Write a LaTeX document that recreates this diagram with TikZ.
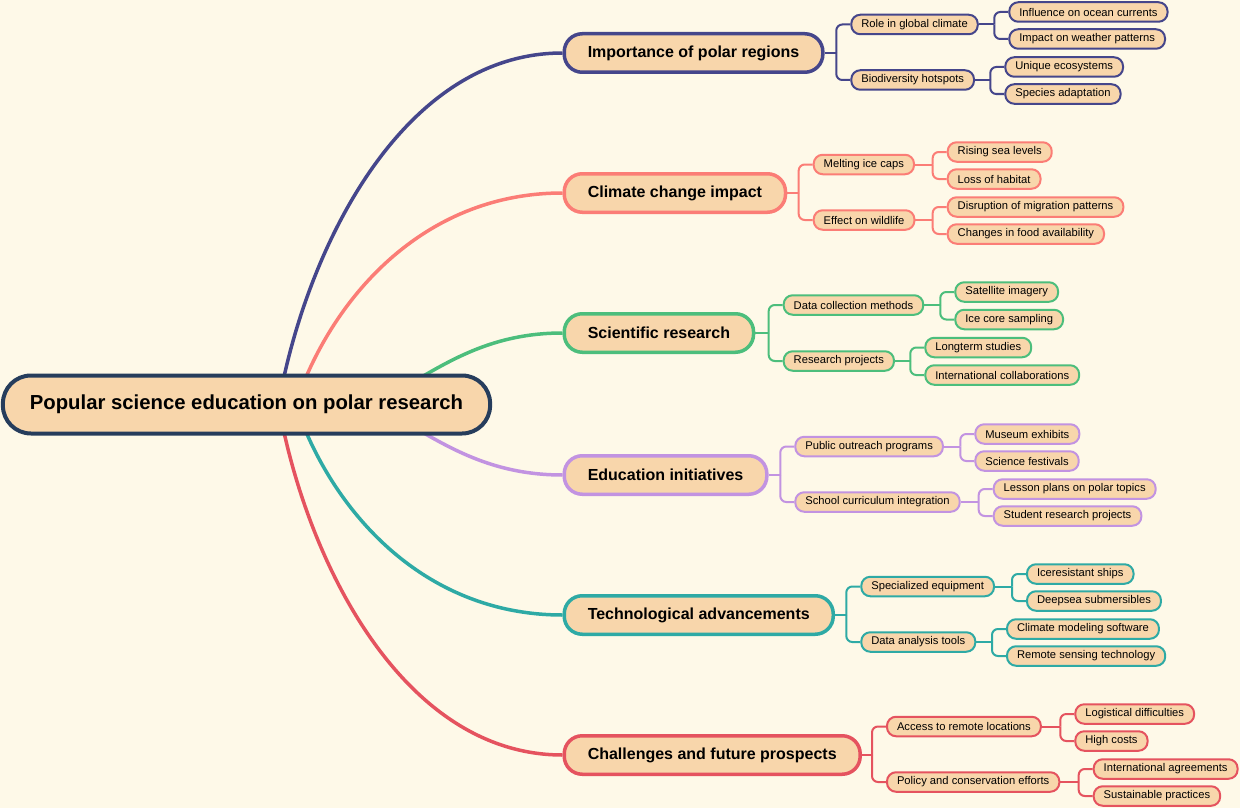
\documentclass[tikz,border=0pt]{standalone}
\usepackage{fontspec}
\setmainfont{Liberation Sans}
\usepackage{xcolor}
\usepackage{tikz}
\usetikzlibrary{calc}

\definecolor{bgcream}{HTML}{FEF9E8}
\definecolor{peach}{HTML}{F8D6AB}
\definecolor{rootcol}{HTML}{263D5C}
\definecolor{impcol}{HTML}{45468B}
\definecolor{climcol}{HTML}{FB7D76}
\definecolor{scicol}{HTML}{4CBE7C}
\definecolor{educol}{HTML}{C293E1}
\definecolor{techcol}{HTML}{2EAAA5}
\definecolor{chalcol}{HTML}{E5535F}

\pgfdeclarelayer{background}
\pgfsetlayers{background,main}

\begin{document}
\begin{tikzpicture}[
  x=1pt, y=-1pt,
  rootbox/.style={rectangle, draw=rootcol, line width=4pt, fill=peach, rounded corners=28pt, minimum height=58pt, inner xsep=27pt, inner ysep=0pt, font=\fontsize{20.3}{24}\selectfont\bfseries},
  topicbox/.style={rectangle, draw, line width=3.5pt, fill=peach, rounded corners=18pt, minimum height=38.5pt, inner xsep=23.5pt, inner ysep=0pt, anchor=west, font=\fontsize{16}{19}\selectfont\bfseries},
  subbox/.style={rectangle, draw, line width=2pt, fill=peach, rounded corners=9pt, minimum height=19.5pt, inner xsep=10pt, inner ysep=0pt, anchor=west, font=\fontsize{11.2}{13.5}\selectfont},
  mainlink/.style={line width=3.5pt},
  link/.style={line width=2pt, rounded corners=6pt}
]

\useasboundingbox (0,0) rectangle (1240,808);

% Root
\node[rootbox] (root) at (246.5,404.5) {Popular science education on polar research};

% Importance of polar regions
\node[topicbox, draw=impcol] (imp) at (562.5,53) {Importance of polar regions};
\node[subbox, draw=impcol] (role) at (850.3,24.5) {Role in global climate};
\node[subbox, draw=impcol] (bio) at (850.3,80) {Biodiversity hotspots};
\node[subbox, draw=impcol] (ocean) at (1008.3,12) {Influence on ocean currents};
\node[subbox, draw=impcol] (weather) at (1008.3,39) {Impact on weather patterns};
\node[subbox, draw=impcol] (ecosys) at (1004.3,67) {Unique ecosystems};
\node[subbox, draw=impcol] (adapt) at (1004.3,94) {Species adaptation};

% Climate change impact
\node[topicbox, draw=climcol] (clim) at (562.5,193) {Climate change impact};
\node[subbox, draw=climcol] (melt) at (812.7,164.5) {Melting ice caps};
\node[subbox, draw=climcol] (wild) at (812.7,220) {Effect on wildlife};
\node[subbox, draw=climcol] (sea) at (946.7,152) {Rising sea levels};
\node[subbox, draw=climcol] (habitat) at (946.7,179) {Loss of habitat};
\node[subbox, draw=climcol] (migr) at (946.7,207) {Disruption of migration patterns};
\node[subbox, draw=climcol] (food) at (946.7,234) {Changes in food availability};

% Scientific research
\node[topicbox, draw=scicol] (sci) at (562.5,333) {Scientific research};
\node[subbox, draw=scicol] (datacol) at (782.7,305) {Data collection methods};
\node[subbox, draw=scicol] (proj) at (782.7,361) {Research projects};
\node[subbox, draw=scicol] (sat) at (954.3,292) {Satellite imagery};
\node[subbox, draw=scicol] (icecore) at (954.3,319.5) {Ice core sampling};
\node[subbox, draw=scicol] (longterm) at (924.3,347.5) {Longterm studies};
\node[subbox, draw=scicol] (intcollab) at (924.3,375) {International collaborations};

% Education initiatives
\node[topicbox, draw=educol] (edu) at (562.5,475) {Education initiatives};
\node[subbox, draw=educol] (outreach) at (794.3,446.5) {Public outreach programs};
\node[subbox, draw=educol] (school) at (794.3,502) {School curriculum integration};
\node[subbox, draw=educol] (museum) at (974.3,434) {Museum exhibits};
\node[subbox, draw=educol] (festival) at (974.3,461) {Science festivals};
\node[subbox, draw=educol] (lesson) at (992.7,489) {Lesson plans on polar topics};
\node[subbox, draw=educol] (student) at (992.7,516) {Student research projects};

% Technological advancements
\node[topicbox, draw=techcol] (tech) at (562.5,615) {Technological advancements};
\node[subbox, draw=techcol] (equip) at (860.3,586.5) {Specialized equipment};
\node[subbox, draw=techcol] (tools) at (860.3,642) {Data analysis tools};
\node[subbox, draw=techcol] (ships) at (1026,574) {Iceresistant ships};
\node[subbox, draw=techcol] (subm) at (1026,601) {Deepsea submersibles};
\node[subbox, draw=techcol] (climmod) at (1006,629) {Climate modeling software};
\node[subbox, draw=techcol] (remote) at (1006,656) {Remote sensing technology};

% Challenges and future prospects
\node[topicbox, draw=chalcol] (chal) at (562.5,755) {Challenges and future prospects};
\node[subbox, draw=chalcol] (access) at (886,726.5) {Access to remote locations};
\node[subbox, draw=chalcol] (policy) at (886,782) {Policy and conservation efforts};
\node[subbox, draw=chalcol] (logist) at (1074.3,714) {Logistical difficulties};
\node[subbox, draw=chalcol] (costs) at (1074.3,741) {High costs};
\node[subbox, draw=chalcol] (agree) at (1092.7,769) {International agreements};
\node[subbox, draw=chalcol] (sustain) at (1092.7,796) {Sustainable practices};

\begin{pgfonlayer}{background}
\fill[bgcream] (0,0) rectangle (1240,808);

% Curves from the root
\draw[mainlink, impcol] ([xshift=32pt]root.center) .. controls +(27,-154) and +(-161,0) .. (imp.west);
\draw[mainlink, climcol] ([xshift=49pt]root.center) .. controls +(35,-104) and +(-141,0) .. (clim.west);
\draw[mainlink, scicol] ([xshift=124pt]root.center) .. controls +(55,-24) and +(-91,0) .. (sci.west);
\draw[mainlink, educol] ([xshift=124pt]root.center) .. controls +(55,24) and +(-91,0) .. (edu.west);
\draw[mainlink, techcol] ([xshift=49pt]root.center) .. controls +(35,104) and +(-141,0) .. (tech.west);
\draw[mainlink, chalcol] ([xshift=32pt]root.center) .. controls +(27,154) and +(-161,0) .. (chal.west);

% Importance branches
\coordinate (imp-j) at ($(imp.east -| role.west)+(-14,0)$);
\coordinate (role-j) at ($(role.east -| ocean.west)+(-14,0)$);
\coordinate (bio-j) at ($(bio.east -| ecosys.west)+(-14,0)$);
\draw[link, impcol] (imp.east) -- (imp-j);
\draw[link, impcol] (imp-j) |- (role.west);
\draw[link, impcol] (imp-j) |- (bio.west);
\draw[link, impcol] (role.east) -- (role-j);
\draw[link, impcol] (role-j) |- (ocean.west);
\draw[link, impcol] (role-j) |- (weather.west);
\draw[link, impcol] (bio.east) -- (bio-j);
\draw[link, impcol] (bio-j) |- (ecosys.west);
\draw[link, impcol] (bio-j) |- (adapt.west);

% Climate branches
\coordinate (clim-j) at ($(clim.east -| melt.west)+(-14,0)$);
\coordinate (melt-j) at ($(melt.east -| sea.west)+(-14,0)$);
\coordinate (wild-j) at ($(wild.east -| migr.west)+(-14,0)$);
\draw[link, climcol] (clim.east) -- (clim-j);
\draw[link, climcol] (clim-j) |- (melt.west);
\draw[link, climcol] (clim-j) |- (wild.west);
\draw[link, climcol] (melt.east) -- (melt-j);
\draw[link, climcol] (melt-j) |- (sea.west);
\draw[link, climcol] (melt-j) |- (habitat.west);
\draw[link, climcol] (wild.east) -- (wild-j);
\draw[link, climcol] (wild-j) |- (migr.west);
\draw[link, climcol] (wild-j) |- (food.west);

% Research branches
\coordinate (sci-j) at ($(sci.east -| datacol.west)+(-14,0)$);
\coordinate (datacol-j) at ($(datacol.east -| sat.west)+(-14,0)$);
\coordinate (proj-j) at ($(proj.east -| longterm.west)+(-14,0)$);
\draw[link, scicol] (sci.east) -- (sci-j);
\draw[link, scicol] (sci-j) |- (datacol.west);
\draw[link, scicol] (sci-j) |- (proj.west);
\draw[link, scicol] (datacol.east) -- (datacol-j);
\draw[link, scicol] (datacol-j) |- (sat.west);
\draw[link, scicol] (datacol-j) |- (icecore.west);
\draw[link, scicol] (proj.east) -- (proj-j);
\draw[link, scicol] (proj-j) |- (longterm.west);
\draw[link, scicol] (proj-j) |- (intcollab.west);

% Education branches
\coordinate (edu-j) at ($(edu.east -| outreach.west)+(-14,0)$);
\coordinate (outreach-j) at ($(outreach.east -| museum.west)+(-14,0)$);
\coordinate (school-j) at ($(school.east -| lesson.west)+(-14,0)$);
\draw[link, educol] (edu.east) -- (edu-j);
\draw[link, educol] (edu-j) |- (outreach.west);
\draw[link, educol] (edu-j) |- (school.west);
\draw[link, educol] (outreach.east) -- (outreach-j);
\draw[link, educol] (outreach-j) |- (museum.west);
\draw[link, educol] (outreach-j) |- (festival.west);
\draw[link, educol] (school.east) -- (school-j);
\draw[link, educol] (school-j) |- (lesson.west);
\draw[link, educol] (school-j) |- (student.west);

% Technology branches
\coordinate (tech-j) at ($(tech.east -| equip.west)+(-14,0)$);
\coordinate (equip-j) at ($(equip.east -| ships.west)+(-14,0)$);
\coordinate (tools-j) at ($(tools.east -| climmod.west)+(-14,0)$);
\draw[link, techcol] (tech.east) -- (tech-j);
\draw[link, techcol] (tech-j) |- (equip.west);
\draw[link, techcol] (tech-j) |- (tools.west);
\draw[link, techcol] (equip.east) -- (equip-j);
\draw[link, techcol] (equip-j) |- (ships.west);
\draw[link, techcol] (equip-j) |- (subm.west);
\draw[link, techcol] (tools.east) -- (tools-j);
\draw[link, techcol] (tools-j) |- (climmod.west);
\draw[link, techcol] (tools-j) |- (remote.west);

% Challenge branches
\coordinate (chal-j) at ($(chal.east -| access.west)+(-14,0)$);
\coordinate (access-j) at ($(access.east -| logist.west)+(-14,0)$);
\coordinate (policy-j) at ($(policy.east -| agree.west)+(-14,0)$);
\draw[link, chalcol] (chal.east) -- (chal-j);
\draw[link, chalcol] (chal-j) |- (access.west);
\draw[link, chalcol] (chal-j) |- (policy.west);
\draw[link, chalcol] (access.east) -- (access-j);
\draw[link, chalcol] (access-j) |- (logist.west);
\draw[link, chalcol] (access-j) |- (costs.west);
\draw[link, chalcol] (policy.east) -- (policy-j);
\draw[link, chalcol] (policy-j) |- (agree.west);
\draw[link, chalcol] (policy-j) |- (sustain.west);
\end{pgfonlayer}

\end{tikzpicture}
\end{document}
